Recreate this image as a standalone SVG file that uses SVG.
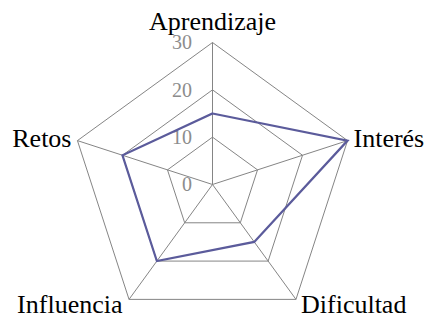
<svg xmlns="http://www.w3.org/2000/svg" width="425" height="320" viewBox="0 0 425 320">
<style>
.grid{fill:none;stroke:#858585;stroke-width:1}
.data{fill:none;stroke:#5b5b9b;stroke-width:2.2;stroke-linejoin:miter}
.lbl{font-size:26px;fill:#000}
.tick{font-size:20px;fill:#8c8c8c;text-anchor:end}
</style>
<rect width="425" height="320" fill="#fff"/>
<g id="grid">
<polygon class="grid" points="212.5,42.5 347.55,140.62 295.97,299.38 129.03,299.38 77.45,140.62"/>
<polygon class="grid" points="212.5,89.83 302.53,155.25 268.14,261.09 156.86,261.09 122.47,155.25"/>
<polygon class="grid" points="212.5,137.17 257.52,169.87 240.32,222.79 184.68,222.79 167.48,169.87"/>
<line class="grid" x1="212.5" y1="184.5" x2="212.5" y2="42.5"/>
<line class="grid" x1="212.5" y1="184.5" x2="347.55" y2="140.62"/>
<line class="grid" x1="212.5" y1="184.5" x2="295.97" y2="299.38"/>
<line class="grid" x1="212.5" y1="184.5" x2="129.03" y2="299.38"/>
<line class="grid" x1="212.5" y1="184.5" x2="77.45" y2="140.62"/>
</g>
<g id="ticks" font-family="Liberation Serif, serif">
<text class="tick" x="192" y="48.8">30</text>
<text class="tick" x="192" y="96.5">20</text>
<text class="tick" x="192" y="144">10</text>
<text class="tick" x="192" y="191.3">0</text>
</g>
<g id="connectors">
<polygon id="series" class="data" points="212.5,113.5 347.55,140.62 254.23,241.94 156.86,261.09 122.47,155.25"/>
</g>
<g id="nodes" font-family="Liberation Serif, serif">
<g id="node-aprendizaje"><text class="lbl" x="212.5" y="30" text-anchor="middle">Aprendizaje</text></g>
<g id="node-interes"><text class="lbl" x="353.5" y="146.5">Interés</text></g>
<g id="node-dificultad"><text class="lbl" x="301" y="313.3">Dificultad</text></g>
<g id="node-influencia"><text class="lbl" x="122.5" y="313.3" text-anchor="end">Influencia</text></g>
<g id="node-retos"><text class="lbl" x="71.5" y="146.8" text-anchor="end">Retos</text></g>
</g>
</svg>
